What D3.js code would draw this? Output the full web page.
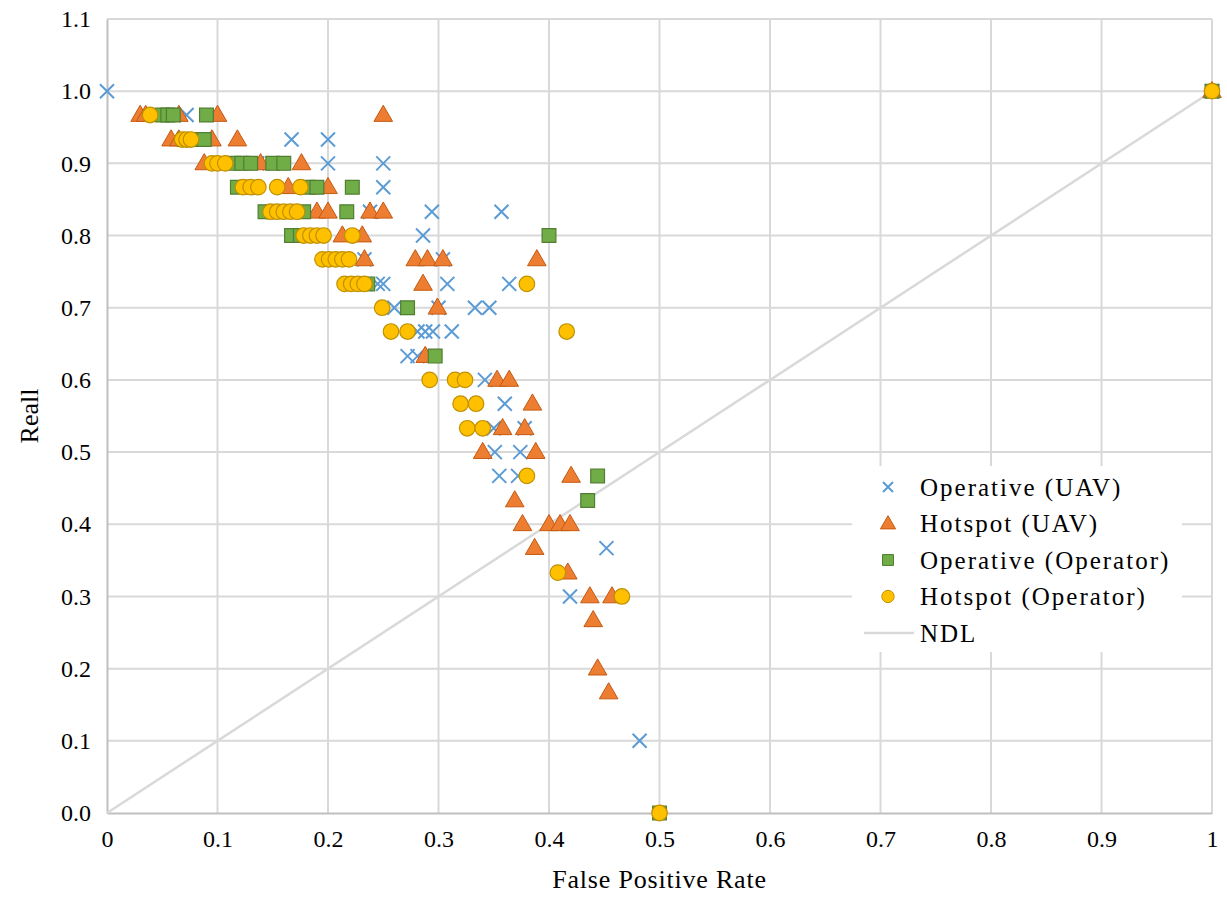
<!DOCTYPE html>
<html>
<head>
<meta charset="utf-8">
<script src="https://cdn.jsdelivr.net/npm/d3@7"></script>
<style>
  body { margin: 0; background: #fff; }
</style>
</head>
<body>
<svg id="chart"></svg>
<script>
// --- data (FPR, recall) ---
var operativeUAV = [
  [0,1],[0.072,0.967],[0.167,0.933],[0.2,0.933],[0.136,0.9],[0.2,0.9],[0.25,0.9],
  [0.25,0.867],[0.238,0.833],[0.294,0.833],[0.357,0.833],[0.286,0.8],
  [0.233,0.767],[0.304,0.767],[0.245,0.733],[0.25,0.733],[0.308,0.733],[0.364,0.733],
  [0.26,0.7],[0.3,0.7],[0.333,0.7],[0.346,0.7],
  [0.281,0.667],[0.288,0.667],[0.295,0.667],[0.312,0.667],
  [0.272,0.633],[0.281,0.633],[0.342,0.6],[0.36,0.567],[0.35,0.533],[0.378,0.533],
  [0.351,0.5],[0.374,0.5],[0.355,0.467],[0.372,0.467],
  [0.452,0.367],[0.419,0.3],[0.482,0.1],[1,1]
];
var hotspotUAV = [
  [0.03,0.967],[0.035,0.967],[0.065,0.967],[0.1,0.967],[0.25,0.967],
  [0.058,0.933],[0.065,0.933],[0.095,0.933],[0.118,0.933],
  [0.088,0.9],[0.139,0.9],[0.176,0.9],
  [0.164,0.867],[0.2,0.867],
  [0.19,0.833],[0.2,0.833],[0.238,0.833],[0.25,0.833],
  [0.213,0.8],[0.231,0.8],
  [0.233,0.767],[0.279,0.767],[0.29,0.767],[0.304,0.767],[0.389,0.767],
  [0.286,0.733],[0.299,0.7],[0.288,0.633],
  [0.353,0.6],[0.364,0.6],[0.385,0.567],
  [0.358,0.533],[0.378,0.533],[0.34,0.5],[0.388,0.5],
  [0.42,0.467],[0.369,0.433],
  [0.376,0.4],[0.4,0.4],[0.41,0.4],[0.419,0.4],
  [0.387,0.367],[0.417,0.333],[0.437,0.3],[0.457,0.3],
  [0.44,0.267],[0.444,0.2],[0.454,0.167],[1,1]
];
var operativeOperator = [
  [0.05,0.967],[0.055,0.967],[0.06,0.967],[0.09,0.967],
  [0.07,0.933],[0.08,0.933],[0.088,0.933],
  [0.115,0.9],[0.122,0.9],[0.13,0.9],[0.15,0.9],[0.16,0.9],
  [0.118,0.867],[0.128,0.867],[0.182,0.867],[0.19,0.867],[0.222,0.867],
  [0.143,0.833],[0.15,0.833],[0.178,0.833],[0.217,0.833],
  [0.167,0.8],[0.175,0.8],[0.182,0.8],[0.4,0.8],
  [0.236,0.733],[0.272,0.7],[0.297,0.633],
  [0.444,0.467],[0.435,0.433],[0.5,0],[1,1]
];
var hotspotOperator = [
  [0.039,0.967],
  [0.068,0.933],[0.072,0.933],[0.076,0.933],
  [0.095,0.9],[0.1,0.9],[0.107,0.9],
  [0.123,0.867],[0.13,0.867],[0.137,0.867],[0.154,0.867],[0.175,0.867],
  [0.148,0.833],[0.154,0.833],[0.16,0.833],[0.166,0.833],[0.172,0.833],
  [0.178,0.8],[0.184,0.8],[0.19,0.8],[0.196,0.8],[0.222,0.8],
  [0.195,0.767],[0.201,0.767],[0.207,0.767],[0.213,0.767],[0.219,0.767],
  [0.215,0.733],[0.221,0.733],[0.227,0.733],[0.233,0.733],[0.38,0.733],
  [0.249,0.7],[0.257,0.667],[0.272,0.667],[0.416,0.667],
  [0.292,0.6],[0.315,0.6],[0.324,0.6],
  [0.32,0.567],[0.334,0.567],[0.326,0.533],[0.34,0.533],
  [0.38,0.467],[0.408,0.333],[0.466,0.3],[0.5,0],[1,1]
];
var ndl = [[0,0],[1,1]];

var xTicks = [0,0.1,0.2,0.3,0.4,0.5,0.6,0.7,0.8,0.9,1];
var yTicks = [0,0.1,0.2,0.3,0.4,0.5,0.6,0.7,0.8,0.9,1.0,1.1];
var seriesNames = ["Operative (UAV)","Hotspot (UAV)","Operative (Operator)","Hotspot (Operator)","NDL"];

var width = 1227, height = 903;
var margin = {left: 107, right: 15, top: 19, bottom: 90};
var serif = "'Liberation Serif', 'Times New Roman', serif";

var svg = d3.select("#chart")
  .attr("width", width)
  .attr("height", height);

var x = d3.scaleLinear().domain([0,1]).range([margin.left, width - margin.right]);
var y = d3.scaleLinear().domain([0,1.1]).range([height - margin.bottom, margin.top]);

// gridlines
svg.append("g")
  .selectAll("line")
  .data(xTicks.slice(1))
  .enter().append("line")
  .attr("x1", d => x(d)).attr("x2", d => x(d))
  .attr("y1", y(0)).attr("y2", y(1.1))
  .attr("stroke", "#d9d9d9").attr("stroke-width", 2);
svg.append("g")
  .selectAll("line")
  .data(yTicks.slice(1))
  .enter().append("line")
  .attr("x1", x(0)).attr("x2", x(1))
  .attr("y1", d => y(d)).attr("y2", d => y(d))
  .attr("stroke", "#d9d9d9").attr("stroke-width", 2);

// axes
var xAxis = svg.append("g")
  .attr("transform", "translate(0," + y(0) + ")")
  .call(d3.axisBottom(x).tickValues(xTicks).tickSize(0).tickPadding(14).tickFormat(d3.format("~g")));
var yAxis = svg.append("g")
  .attr("transform", "translate(" + x(0) + ",0)")
  .call(d3.axisLeft(y).tickValues(yTicks).tickSize(0).tickPadding(16).tickFormat(d3.format(".1f")));
[xAxis, yAxis].forEach(function(a){
  a.attr("font-family", serif).attr("font-size", 24);
  a.select(".domain").attr("stroke", "#bfbfbf").attr("stroke-width", 2);
  a.selectAll("text").attr("fill", "#000");
});
xAxis.selectAll("text").attr("dy", "0.85em");

// axis titles
svg.append("text")
  .attr("x", (x(0) + x(1)) / 2).attr("y", 888)
  .attr("text-anchor", "middle")
  .attr("font-family", serif).attr("font-size", 26)
  .style("letter-spacing", "0.8px")
  .text("False Positive Rate");
svg.append("text")
  .attr("transform", "translate(38," + (y(0) + y(1.1)) / 2 + ") rotate(-90)")
  .attr("text-anchor", "middle")
  .attr("font-family", serif).attr("font-size", 26)
  .text("Reall");

// NDL line
svg.append("path")
  .datum(ndl)
  .attr("fill", "none")
  .attr("stroke", "#d9d9d9")
  .attr("stroke-width", 2.5)
  .attr("d", d3.line().x(d => x(d[0])).y(d => y(d[1])));

// marker drawers
function drawCross(g, cx, cy, s) {
  g.append("path")
    .attr("d", "M" + (cx - s) + "," + (cy - s) + "L" + (cx + s) + "," + (cy + s) +
               "M" + (cx - s) + "," + (cy + s) + "L" + (cx + s) + "," + (cy - s))
    .attr("stroke", "#5b9bd5").attr("stroke-width", 2).attr("fill", "none");
}
var triSym = d3.symbol().type(d3.symbolTriangle).size(150);
var sqSym = d3.symbol().type(d3.symbolSquare).size(190);
var circSym = d3.symbol().type(d3.symbolCircle).size(190);

var gUAV = svg.append("g");
operativeUAV.forEach(function(d){ drawCross(gUAV, x(d[0]), y(d[1]), 7); });

svg.append("g").selectAll("path")
  .data(hotspotUAV).enter().append("path")
  .attr("d", triSym)
  .attr("transform", d => "translate(" + x(d[0]) + "," + (y(d[1]) + 1) + ")")
  .attr("fill", "#ed7d31").attr("stroke", "#c55a11").attr("stroke-width", 1);

svg.append("g").selectAll("path")
  .data(operativeOperator).enter().append("path")
  .attr("d", sqSym)
  .attr("transform", d => "translate(" + x(d[0]) + "," + y(d[1]) + ")")
  .attr("fill", "#70ad47").attr("stroke", "#507e32").attr("stroke-width", 1.2);

svg.append("g").selectAll("path")
  .data(hotspotOperator).enter().append("path")
  .attr("d", circSym)
  .attr("transform", d => "translate(" + x(d[0]) + "," + y(d[1]) + ")")
  .attr("fill", "#ffc000").attr("stroke", "#bf9000").attr("stroke-width", 1.2);

// legend
var legend = svg.append("g").attr("transform", "translate(852,466)");
legend.append("rect").attr("width", 330).attr("height", 186).attr("fill", "#fff");
seriesNames.forEach(function(name, i){
  var cy = 21 + i * 36.5, cx = 36;
  var row = legend.append("g");
  if (i === 0) drawCross(row, cx, cy, 5);
  if (i === 1) row.append("path").attr("d", d3.symbol().type(d3.symbolTriangle).size(100))
    .attr("transform", "translate(" + cx + "," + (cy + 1) + ")")
    .attr("fill", "#ed7d31").attr("stroke", "#c55a11");
  if (i === 2) row.append("path").attr("d", d3.symbol().type(d3.symbolSquare).size(120))
    .attr("transform", "translate(" + cx + "," + cy + ")")
    .attr("fill", "#70ad47").attr("stroke", "#507e32");
  if (i === 3) row.append("path").attr("d", d3.symbol().type(d3.symbolCircle).size(120))
    .attr("transform", "translate(" + cx + "," + cy + ")")
    .attr("fill", "#ffc000").attr("stroke", "#bf9000");
  if (i === 4) row.append("line").attr("x1", 12).attr("x2", 62).attr("y1", cy).attr("y2", cy)
    .attr("stroke", "#d9d9d9").attr("stroke-width", 2.5);
  row.append("text")
    .attr("x", 68).attr("y", cy)
    .attr("dy", "0.35em")
    .attr("font-family", serif).attr("font-size", 25)
    .style("letter-spacing", "2px")
    .text(name);
});
</script>
</body>
</html>
